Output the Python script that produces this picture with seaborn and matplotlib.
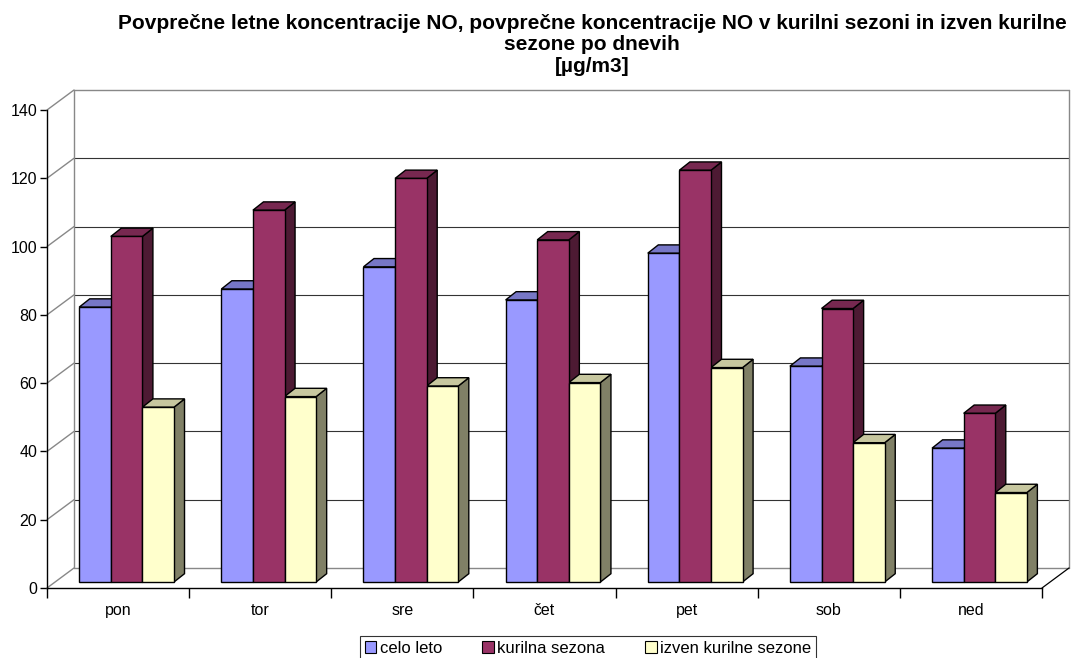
"""Average NO concentrations per weekday, drawn as an Excel-style 3D column chart."""

import matplotlib.pyplot as plt
import pandas as pd
import seaborn as sns
from matplotlib.colors import to_rgb
from matplotlib.patches import Patch, Polygon

days = ["pon", "tor", "sre", "čet", "pet", "sob", "ned"]
series_names = ["celo leto", "kurilna sezona", "izven kurilne sezone"]
celo_leto = [80.5, 85.8, 92.3, 82.6, 96.3, 63.2, 39.2]
kurilna_sezona = [101.2, 108.9, 118.2, 100.2, 120.6, 80.1, 49.4]
izven_kurilne = [51.2, 54.3, 57.4, 58.4, 62.8, 40.8, 26.2]
y_ticks = [0, 20, 40, 60, 80, 100, 120, 140]

colors = ["#9999FF", "#993366", "#FFFFCC"]
title = ("Povprečne letne koncentracije NO, povprečne koncentracije NO v kurilni sezoni "
         "in izven kurilne\nsezone po dnevih\n[µg/m3]")

# oblique depth offsets (x in category units, y in value units)
WALL_DX, WALL_DY = 0.19, 5.86
BAR_SHIFT_X, BAR_SHIFT_Y = 0.06, 1.76
BAR_DX, BAR_DY = 0.074, 2.43


def shade(color, factor):
    return tuple(c * factor for c in to_rgb(color))


def draw_walls(ax):
    x0, x1 = -0.5, len(days) - 0.5
    grid_kw = dict(color="#333333", lw=0.8, zorder=1, clip_on=False)
    edge_kw = dict(color="#888888", lw=1.0, zorder=1, clip_on=False)
    for v in y_ticks:
        ax.plot([x0 + WALL_DX, x1 + WALL_DX], [v + WALL_DY, v + WALL_DY],
                **(edge_kw if v in (0, y_ticks[-1]) else grid_kw))
        ax.plot([x0, x0 + WALL_DX], [v, v + WALL_DY], **edge_kw)
    ax.plot([x0 + WALL_DX, x0 + WALL_DX], [WALL_DY, y_ticks[-1] + WALL_DY], **edge_kw)
    ax.plot([x1 + WALL_DX, x1 + WALL_DX], [WALL_DY, y_ticks[-1] + WALL_DY], **edge_kw)
    ax.plot([x1, x1 + WALL_DX], [0, WALL_DY], color="black", lw=0.9, zorder=1, clip_on=False)


def extrude_bars(ax):
    for container, color in zip(ax.containers, colors):
        for bar in container:
            x, w, h = bar.get_x() + BAR_SHIFT_X, bar.get_width(), bar.get_height()
            bar.set_x(x)
            bar.set_y(BAR_SHIFT_Y)
            bar.set_zorder(4)
            top = BAR_SHIFT_Y + h
            base = BAR_SHIFT_Y
            ax.add_patch(Polygon(
                [(x, top), (x + BAR_DX, top + BAR_DY), (x + w + BAR_DX, top + BAR_DY), (x + w, top)],
                facecolor=shade(color, 0.78), edgecolor="black", lw=1.0, zorder=3))
            ax.add_patch(Polygon(
                [(x + w, base), (x + w + BAR_DX, base + BAR_DY),
                 (x + w + BAR_DX, top + BAR_DY), (x + w, top)],
                facecolor=shade(color, 0.5), edgecolor="black", lw=1.0, zorder=2))


def main():
    sns.set_style("white")
    plt.rcParams["font.family"] = ["Liberation Sans", "DejaVu Sans"]
    plt.rcParams.update({"text.color": "black", "xtick.color": "black",
                         "ytick.color": "black"})

    df = pd.DataFrame({
        "day": days * 3,
        "series": [s for s in series_names for _ in days],
        "value": celo_leto + kurilna_sezona + izven_kurilne,
    })

    fig = plt.figure(figsize=(10.74, 6.58), dpi=100)
    ax = fig.add_axes([47 / 1074, 70 / 658, 995 / 1074, 478 / 658])
    sns.barplot(data=df, x="day", y="value", hue="series", order=days,
                hue_order=series_names, palette=colors, saturation=1,
                width=0.667, edgecolor="black", linewidth=1.0, ax=ax, legend=False)
    ax.set_xlim(-0.5, len(days) - 0.5)
    ax.set_ylim(0, y_ticks[-1])
    extrude_bars(ax)
    draw_walls(ax)

    for side in ["top", "right"]:
        ax.spines[side].set_visible(False)
    for side in ["left", "bottom"]:
        ax.spines[side].set_color("black")
        ax.spines[side].set_linewidth(1.0)
    ax.set_yticks(y_ticks)
    ax.tick_params(axis="y", direction="out", length=5, width=1, colors="black",
                   labelsize=11.5, pad=2, left=True)
    ax.set_xticks([i - 0.5 for i in range(len(days) + 1)])
    ax.set_xticklabels([])
    ax.set_xticks(range(len(days)), minor=True)
    ax.set_xticklabels(days, minor=True)
    ax.tick_params(axis="x", which="major", direction="out", length=7, width=1,
                   colors="black", bottom=True)
    ax.tick_params(axis="x", which="minor", length=0, labelsize=11.5, pad=11,
                   labelcolor="black")
    ax.set_xlabel("")
    ax.set_ylabel("")

    fig.text(592 / 1074, 1 - 14 / 658, title, ha="center", va="top", color="black",
             fontsize=15, fontweight="bold", linespacing=1.15)

    handles = [Patch(facecolor=c, edgecolor="black", lw=0.8) for c in colors]
    legend = fig.legend(handles, series_names, loc="upper center",
                        bbox_to_anchor=(588 / 1074, 1 - 636 / 658), ncol=3, fontsize=12,
                        frameon=True, fancybox=False, edgecolor="black", handlelength=0.7,
                        handleheight=0.7, handletextpad=0.2, columnspacing=2.4,
                        borderpad=0.3, borderaxespad=0)
    legend.get_frame().set_linewidth(0.8)

    fig.savefig("out.png", dpi=100)
    plt.close(fig)


if __name__ == "__main__":
    main()
